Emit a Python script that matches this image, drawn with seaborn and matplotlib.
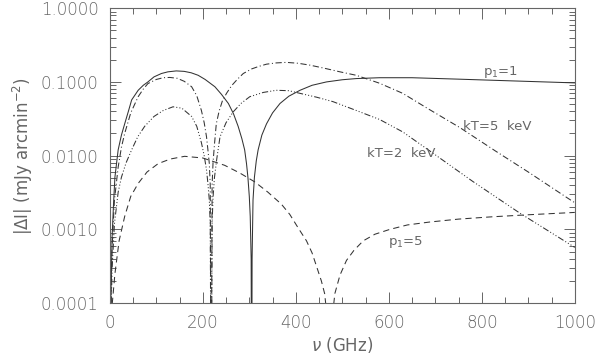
import matplotlib
matplotlib.use("Agg")
import matplotlib.pyplot as plt
import matplotlib.ticker as mticker
import pandas as pd
import seaborn as sns

# frequencies (GHz) and |dI| values (mJy arcmin^-2)
nu_p1 = [0, 2, 5, 8, 11, 18, 25, 32, 40, 47, 61, 72, 82, 95, 111, 125, 143, 160, 175, 190,
         205, 226, 240, 255, 266, 276, 284, 290, 294, 297, 300, 302, 304, 305, 306, 308,
         311, 315, 319, 327, 337, 350, 366, 385, 409, 435, 466, 500, 530, 580, 650, 750,
         850, 1000]
val_p1 = [1e-6, 1e-4, 8e-4, 2.2e-3, 5.1e-3, 0.012, 0.019, 0.027, 0.04, 0.057, 0.077, 0.09,
          0.1, 0.117, 0.13, 0.137, 0.141, 0.139, 0.133, 0.123, 0.108, 0.086, 0.068, 0.051,
          0.037, 0.025, 0.017, 0.012, 0.0078, 0.0051, 0.0028, 0.0015, 4e-4, 1e-6, 4e-4,
          0.0025, 0.0051, 0.0085, 0.012, 0.019, 0.027, 0.038, 0.051, 0.064, 0.077, 0.09, 0.1,
          0.107, 0.111, 0.114, 0.114, 0.109, 0.104, 0.097]

nu_kt5 = [0, 2, 5, 10, 18, 25, 32, 45, 61, 72, 82, 100, 115, 129, 145, 160, 176, 187, 197,
          203, 208, 211, 214, 216, 218, 220, 222, 225, 229, 235, 242, 251, 262, 274, 287,
          305, 320, 337, 358, 380, 405, 430, 460, 495, 530, 580, 630, 680, 753, 830, 900,
          983, 1000]
val_kt5 = [1e-6, 1e-4, 6e-4, 2.5e-3, 7e-3, 0.013, 0.02, 0.038, 0.063, 0.08, 0.095, 0.108,
           0.114, 0.115, 0.112, 0.102, 0.086, 0.065, 0.041, 0.028, 0.018, 0.012, 0.0078,
           0.004, 1e-6, 0.004, 0.008, 0.014, 0.027, 0.04, 0.055, 0.07, 0.089, 0.108, 0.13,
           0.15, 0.162, 0.174, 0.181, 0.184, 0.179, 0.169, 0.154, 0.137, 0.123, 0.096, 0.07,
           0.045, 0.024, 0.0115, 0.006, 0.0027, 0.0023]

nu_kt2 = [0, 2, 5, 10, 18, 25, 35, 47, 60, 75, 95, 115, 136, 155, 176, 187, 197, 203, 208,
          211, 214, 216, 218, 220, 222, 225, 230, 237, 250, 265, 282, 301, 330, 358, 385,
          409, 445, 480, 530, 580, 630, 695, 780, 882, 1000]
val_kt2 = [1e-6, 5e-5, 3e-4, 1.2e-3, 3.2e-3, 5.1e-3, 8e-3, 0.012, 0.018, 0.025, 0.034,
           0.041, 0.046, 0.044, 0.034, 0.025, 0.015, 0.01, 0.0064, 0.0042, 0.0025, 0.0012,
           1e-6, 0.0012, 0.0027, 0.005, 0.009, 0.018, 0.028, 0.039, 0.051, 0.063, 0.072,
           0.077, 0.076, 0.07, 0.062, 0.054, 0.041, 0.031, 0.021, 0.0108, 0.0045, 0.00166,
           0.00057]

nu_p5 = [0, 4, 11, 20, 32, 45, 61, 80, 104, 130, 161, 200, 247, 280, 312, 340, 369, 387,
         405, 423, 435, 445, 455, 462, 468, 473, 478, 484, 495, 509, 525, 545, 570, 602,
         640, 688, 750, 820, 900, 1000]
val_p5 = [1e-6, 8e-5, 2.5e-4, 7e-4, 1.5e-3, 2.8e-3, 4.2e-3, 6e-3, 7.8e-3, 9e-3, 9.8e-3,
          9.3e-3, 7.4e-3, 5.8e-3, 4.4e-3, 3.2e-3, 2.2e-3, 1.6e-3, 1.05e-3, 7e-4, 4.8e-4,
          3.1e-4, 2e-4, 1.35e-4, 6e-5, 1e-7, 6e-5, 1.35e-4, 2.4e-4, 3.8e-4, 5.2e-4, 7e-4,
          8.6e-4, 1e-3, 1.15e-3, 1.26e-3, 1.38e-3, 1.48e-3, 1.58e-3, 1.7e-3]

series = [
    ("p1=1", nu_p1, val_p1, None),
    ("kT=5", nu_kt5, val_kt5, (6, 2.5, 1, 2.5)),
    ("kT=2", nu_kt2, val_kt2, (6, 2, 1, 2, 1, 2, 1, 2)),
    ("p1=5", nu_p5, val_p5, (6, 4)),
]

sns.set_style("ticks")
plt.rcParams["font.family"] = ["DejaVu Sans"]
grey = "#666666"

fig = plt.figure(figsize=(6, 3.55), dpi=100)
ax = fig.add_axes([0.183, 0.146, 0.775, 0.831])

for name, x, y, dash in series:
    df = pd.DataFrame({"nu": x, "dI": y})
    sns.lineplot(data=df, x="nu", y="dI", ax=ax, color="#333333", lw=0.75,
                 sort=False, estimator=None)
    if dash is not None:
        ax.lines[-1].set_dashes(dash)

ax.set_yscale("log")
ax.set_xlim(0, 1000)
ax.set_ylim(1e-4, 1.0)
ax.xaxis.set_major_locator(mticker.MultipleLocator(200))
ax.xaxis.set_minor_locator(mticker.MultipleLocator(50))
ax.yaxis.set_major_locator(mticker.LogLocator(base=10, numticks=10))
ax.yaxis.set_minor_locator(mticker.LogLocator(base=10, subs=range(2, 10), numticks=20))
ax.yaxis.set_major_formatter(mticker.FuncFormatter(lambda v, p: f"{v:.4f}"))
ax.yaxis.set_minor_formatter(mticker.NullFormatter())

ax.tick_params(which="both", direction="in", top=True, right=True, colors=grey,
               labelsize=12, labelcolor=grey, width=0.7)
ax.tick_params(which="major", length=8, pad=8)
ax.tick_params(which="minor", length=4)
for lab in ax.get_xticklabels() + ax.get_yticklabels():
    lab.set_fontweight("light")
for s in ax.spines.values():
    s.set_color(grey)
    s.set_linewidth(0.8)

ax.set_xlabel(r"$\nu$ (GHz)", fontsize=12, color=grey, labelpad=2)
ax.set_ylabel(r"|$\Delta$I| (mJy arcmin$^{-2}$)", fontsize=12, color=grey, labelpad=4)

ax.text(803, 0.135, r"p$_1$=1", fontsize=9.5, color=grey, ha="left", va="center")
ax.text(760, 0.0245, "kT=5  keV", fontsize=9.5, color=grey, ha="left", va="center")
ax.text(553, 0.0108, "kT=2  keV", fontsize=9.5, color=grey, ha="left", va="center")
ax.text(598, 0.00067, r"p$_1$=5", fontsize=9.5, color=grey, ha="left", va="center")

fig.savefig("out.png", dpi=100)
